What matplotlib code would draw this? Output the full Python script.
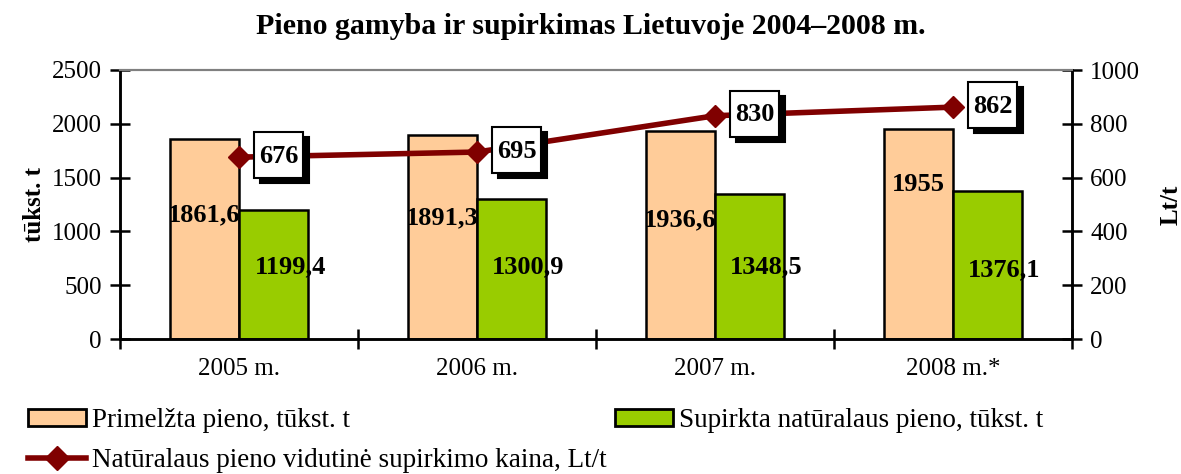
import numpy as np
import matplotlib
matplotlib.use("Agg")
import matplotlib.pyplot as plt
import matplotlib.transforms as mtransforms
from matplotlib.patches import Patch, Rectangle
from matplotlib.lines import Line2D

plt.rcParams['font.family'] = ['Liberation Serif', 'DejaVu Serif']

# data
years = ['2005 m.', '2006 m.', '2007 m.', '2008 m.*']
primelzta = [1861.6, 1891.3, 1936.6, 1955]
supirkta = [1199.4, 1300.9, 1348.5, 1376.1]
kaina = [676, 695, 830, 862]
primelzta_txt = ['1861,6', '1891,3', '1936,6', '1955']
supirkta_txt = ['1199,4', '1300,9', '1348,5', '1376,1']

# where Excel put the bar labels (data units)
primelzta_lbl_y = [1150, 1125, 1105, 1435]
supirkta_lbl_y = [670, 670, 670, 645]

orange = '#FFCC99'
green = '#99CC00'
wine = '#800000'

fig = plt.figure(figsize=(11.81, 4.74), dpi=100)
ax = fig.add_axes([120/1181, 1-339/474, (1072-120)/1181, (339-70)/474])
ax2 = ax.twinx()

x = np.arange(len(years))
w = 0.29
ax.bar(x - w/2, primelzta, w, color=orange, edgecolor='black', linewidth=1.8, zorder=2)
ax.bar(x + w/2, supirkta, w, color=green, edgecolor='black', linewidth=1.8, zorder=2)

ax.set_xlim(-0.5, len(years) - 0.5)
ax.set_ylim(0, 2500)
ax.set_yticks(range(0, 2501, 500))
ax2.set_ylim(0, 1000)
ax2.set_yticks(range(0, 1001, 200))

ax2.plot(x, kaina, color=wine, linewidth=4, marker='D', markersize=11, zorder=3)

# bar labels drawn on ax2 so they sit above the line
for i in range(len(years)):
    p = ax2.transData.inverted().transform(ax.transData.transform((x[i] - w/2, primelzta_lbl_y[i])))
    ax2.text(p[0], p[1], primelzta_txt[i], ha='center', va='center',
             fontsize=19, fontweight='bold', zorder=6)
    p = ax2.transData.inverted().transform(ax.transData.transform((x[i] + w/2 + 0.07, supirkta_lbl_y[i])))
    ax2.text(p[0], p[1], supirkta_txt[i], ha='center', va='center',
             fontsize=19, fontweight='bold', zorder=6)

# value boxes with a drop shadow, sized in pixels next to each marker
for i, v in enumerate(kaina):
    t = mtransforms.ScaledTranslation(x[i], v, ax2.transData)
    ax2.add_patch(Rectangle((21, -26), 49, 46, transform=t, fc='black', ec='black',
                            lw=1.5, zorder=4, clip_on=False))
    ax2.add_patch(Rectangle((15, -21), 49, 46, transform=t, fc='white', ec='black',
                            lw=1.5, zorder=5, clip_on=False))
    ax2.annotate(str(v), (x[i], v), xytext=(39.5, 1), textcoords='offset pixels',
                 ha='center', va='center', fontsize=19, fontweight='bold', zorder=6)

ax.set_xticks(np.arange(len(years) + 1) - 0.5, minor=False)
ax.set_xticklabels([])
ax.set_xticks(x, minor=True)
ax.set_xticklabels(years, minor=True, fontsize=18)
ax.tick_params(axis='x', which='minor', length=0, pad=14)
ax.tick_params(axis='x', which='major', direction='inout', length=14, width=1.8)
ax.tick_params(axis='y', direction='inout', length=14, width=1.8, labelsize=18, pad=6)
ax2.tick_params(axis='y', direction='inout', length=14, width=1.8, labelsize=18, pad=6)

for a in (ax, ax2):
    a.spines['top'].set_color('#808080')
    a.spines['top'].set_linewidth(1.5)
    for s in ('left', 'right', 'bottom'):
        a.spines[s].set_linewidth(1.8)
ax2.patch.set_visible(False)

ax.set_ylabel('tūkst. t', fontsize=18, fontweight='bold', labelpad=4)
ax2.set_ylabel('Lt/t', fontsize=18, fontweight='bold', labelpad=14)
fig.text(0.5, 1 - 26/474, 'Pieno gamyba ir supirkimas Lietuvoje 2004–2008 m.',
         fontsize=21.5, fontweight='bold', ha='center', va='center')

handles = [
    Patch(facecolor=orange, edgecolor='black', linewidth=2),
    Line2D([], [], color=wine, linewidth=4, marker='D', markersize=12),
    Patch(facecolor=green, edgecolor='black', linewidth=2),
]
labels = ['Primelžta pieno, tūkst. t',
          'Natūralaus pieno vidutinė supirkimo kaina, Lt/t',
          'Supirkta natūralaus pieno, tūkst. t']
fig.legend(handles, labels, ncol=2, loc='upper left', bbox_to_anchor=(28/1181, 1 - 408/474),
           frameon=False, fontsize=19.5, handlelength=2.15, handleheight=0.63,
           handletextpad=0.22, columnspacing=0.3, labelspacing=0.55, borderaxespad=0,
           borderpad=0)

fig.savefig('out.png', dpi=100)
